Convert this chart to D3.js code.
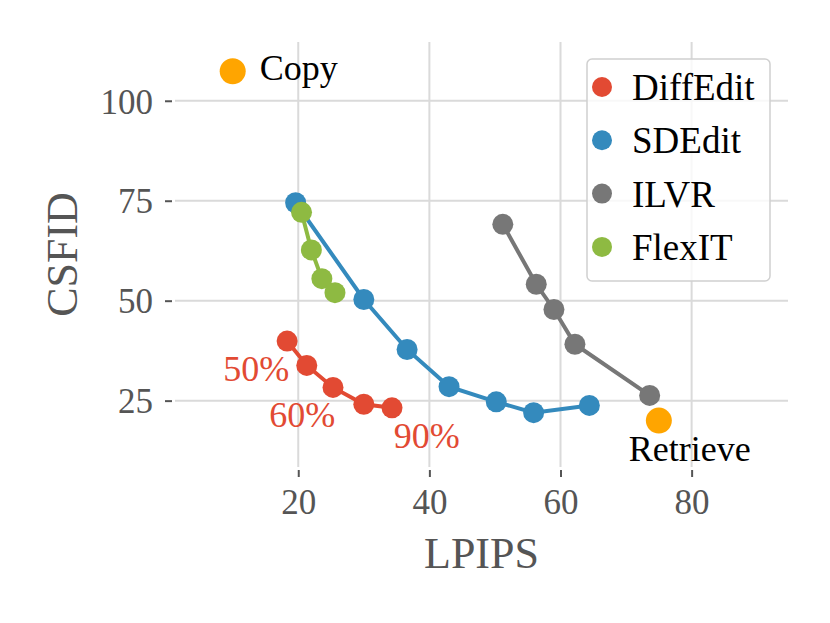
<!DOCTYPE html>
<meta charset="utf-8">
<title>CSFID vs LPIPS</title>
<style>
body { margin: 0; background: #fff; }
svg { font-family: "Liberation Serif", "Times New Roman", serif; }
.grid line { stroke: #dadada; stroke-width: 2; }
.axis path { display: none; }
.axis line { stroke: #555; stroke-width: 2; }
.axis text { fill: #555; font-size: 35px; font-family: "Liberation Serif", serif; }
.label { fill: #555; font-size: 44px; }
</style>
<body>
<svg width="830" height="623"></svg>
<script src="https://d3js.org/d3.v7.min.js"></script>
<script>

// data (LPIPS, CSFID)
var seriesNames = ["DiffEdit", "SDEdit", "ILVR", "FlexIT"];
var seriesColors = ["#E24A33", "#348ABD", "#777777", "#8EBA42"];

var diffEditLpips = [18.3, 21.3, 25.3, 30.0, 34.3];
var diffEditCsfid = [39.9, 33.8, 28.3, 24.1, 23.2];

var sdEditLpips = [19.6, 30.0, 36.6, 43.0, 50.2, 55.9, 64.4];
var sdEditCsfid = [74.5, 50.3, 37.8, 28.5, 24.7, 22.0, 23.8];

var ilvrLpips = [51.2, 56.3, 59.0, 62.2, 73.6];
var ilvrCsfid = [69.1, 54.1, 47.8, 39.1, 26.3];

var flexitLpips = [20.5, 22.0, 23.6, 25.6];
var flexitCsfid = [72.1, 62.7, 55.5, 52.0];

var baselineNames = ["Copy", "Retrieve"];
var baselineLpips = [10, 75];
var baselineCsfid = [107.4, 20];

var pctLabels = ["50%", "60%", "90%"];
var pctLpips = [13.6, 20.6, 39.6];
var pctCsfid = [29.9, 18.3, 13.1];

var xTicks = [20, 40, 60, 80];
var yTicks = [25, 50, 75, 100];

var series = [
  {name: seriesNames[0], color: seriesColors[0], x: diffEditLpips, y: diffEditCsfid},
  {name: seriesNames[1], color: seriesColors[1], x: sdEditLpips, y: sdEditCsfid},
  {name: seriesNames[2], color: seriesColors[2], x: ilvrLpips, y: ilvrCsfid},
  {name: seriesNames[3], color: seriesColors[3], x: flexitLpips, y: flexitCsfid}
];

var svg = d3.select("svg"),
    margin = {top: 42, right: 42, bottom: 156, left: 175},
    width = +svg.attr("width") - margin.left - margin.right,
    height = +svg.attr("height") - margin.top - margin.bottom;

var x = d3.scaleLinear().domain([1.2, 94.7]).range([0, width]),
    y = d3.scaleLinear().domain([8.4, 114.7]).range([height, 0]);

var g = svg.append("g")
    .attr("transform", "translate(" + margin.left + "," + margin.top + ")");

// grid
g.append("g").attr("class", "grid")
  .selectAll("line").data(xTicks).enter().append("line")
    .attr("x1", function(d) { return x(d); }).attr("x2", function(d) { return x(d); })
    .attr("y1", 0).attr("y2", height);
g.append("g").attr("class", "grid")
  .selectAll("line").data(yTicks).enter().append("line")
    .attr("y1", function(d) { return y(d); }).attr("y2", function(d) { return y(d); })
    .attr("x1", 0).attr("x2", width);

// axes, offset a little from the plot like a despined matplotlib axis
g.append("g")
    .attr("class", "axis")
    .attr("transform", "translate(0," + (height + 3) + ")")
    .call(d3.axisBottom(x).tickValues(xTicks).tickSize(7).tickPadding(12));

g.append("g")
    .attr("class", "axis")
    .attr("transform", "translate(-3,0)")
    .call(d3.axisLeft(y).tickValues(yTicks).tickSize(7).tickPadding(12))
  .selectAll("text").attr("dy", "0.35em");

svg.append("text").attr("class", "label")
    .attr("x", margin.left + width / 2).attr("y", 568)
    .attr("text-anchor", "middle").text("LPIPS");

svg.append("text").attr("class", "label")
    .attr("transform", "translate(77," + (margin.top + height / 2) + ") rotate(-90)")
    .attr("text-anchor", "middle").text("CSFID");

// lines + points
var line = d3.line()
    .x(function(d) { return x(d[0]); })
    .y(function(d) { return y(d[1]); });

series.forEach(function(s) {
  var pts = s.x.map(function(v, i) { return [v, s.y[i]]; });
  g.append("path")
      .datum(pts)
      .attr("fill", "none")
      .attr("stroke", s.color)
      .attr("stroke-width", 4)
      .attr("d", line);
  g.selectAll(null)
    .data(pts)
    .enter().append("circle")
      .attr("cx", function(d) { return x(d[0]); })
      .attr("cy", function(d) { return y(d[1]); })
      .attr("r", 10.5)
      .attr("fill", s.color);
});

// baselines
baselineNames.forEach(function(n, i) {
  g.append("circle")
      .attr("cx", x(baselineLpips[i]))
      .attr("cy", y(baselineCsfid[i]))
      .attr("r", 13)
      .attr("fill", "#FFA500");
});
g.append("text")
    .attr("x", x(baselineLpips[0]) + 27).attr("y", y(baselineCsfid[0]) + 9)
    .attr("font-size", 36).attr("fill", "#000").text(baselineNames[0]);
g.append("text")
    .attr("x", x(baselineLpips[1]) + 31).attr("y", y(baselineCsfid[1]) + 40)
    .attr("font-size", 36).attr("text-anchor", "middle").attr("fill", "#000").text(baselineNames[1]);

// percent labels
g.selectAll(".pct")
  .data(pctLabels)
  .enter().append("text")
    .attr("class", "pct")
    .attr("x", function(d, i) { return x(pctLpips[i]); })
    .attr("y", function(d, i) { return y(pctCsfid[i]); })
    .attr("text-anchor", "middle")
    .attr("font-size", 36)
    .attr("fill", seriesColors[0])
    .text(function(d) { return d; });

// legend
var legend = svg.append("g").attr("transform", "translate(587,59)");
legend.append("rect")
    .attr("width", 183).attr("height", 222)
    .attr("rx", 5)
    .attr("fill", "#fff").attr("fill-opacity", 0.8)
    .attr("stroke", "#d0d0d0").attr("stroke-width", 1.5);

var items = legend.selectAll(".item")
  .data(series)
  .enter().append("g")
    .attr("class", "item")
    .attr("transform", function(d, i) { return "translate(0," + (28 + i * 53.3) + ")"; });
items.append("circle")
    .attr("cx", 15).attr("cy", 0).attr("r", 10)
    .attr("fill", function(d) { return d.color; });
items.append("text")
    .attr("x", 45).attr("y", 13)
    .attr("font-size", 37).attr("fill", "#000")
    .text(function(d) { return d.name; });

</script>
</body>
